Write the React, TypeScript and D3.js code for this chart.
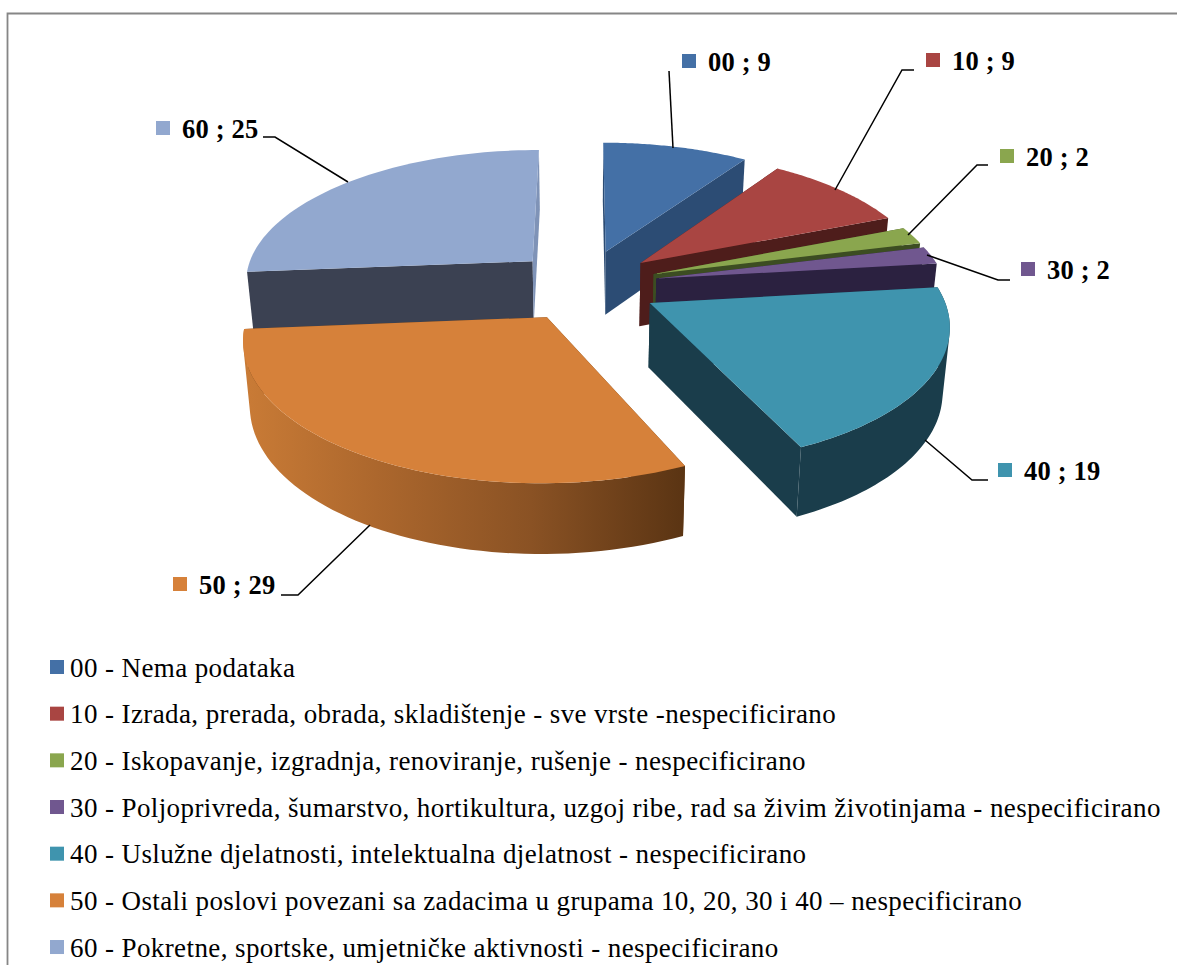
import React from "react";
import * as d3 from "d3";

const codes = ["00", "10", "20", "30", "40", "50", "60"];
const values = [9, 9, 2, 2, 19, 29, 25];
const legendTexts = [
  "00 - Nema podataka",
  "10 - Izrada, prerada, obrada, skladištenje - sve vrste -nespecificirano",
  "20 - Iskopavanje, izgradnja, renoviranje, rušenje - nespecificirano",
  "30 - Poljoprivreda, šumarstvo, hortikultura, uzgoj ribe, rad sa živim životinjama - nespecificirano",
  "40 - Uslužne djelatnosti, intelektualna djelatnost - nespecificirano",
  "50 - Ostali poslovi povezani sa zadacima u grupama 10, 20, 30 i 40 – nespecificirano",
  "60 - Pokretne, sportske, umjetničke aktivnosti - nespecificirano",
];
const topColors = ["#4470a6", "#a94542", "#8aa64e", "#70578f", "#3f94ae", "#d6813a", "#92a8cf"];
const sideColors = ["#2c4c74", "#4e1d1b", "#3c4d22", "#2b2140", "#1a3d4b", "#6b3f18", "#3b4152"];
const labelPos = [
  { mx: 682, my: 54, line: [[669, 71], [673, 148]] },
  { mx: 926, my: 53, line: [[914, 70], [902, 70], [835, 190]] },
  { mx: 1000, my: 149, line: [[988, 165], [977, 165], [908, 235]] },
  { mx: 1021, my: 262, line: [[1010, 280], [998, 280], [927, 255]] },
  { mx: 998, my: 463, line: [[988, 480], [972, 480], [925, 440]] },
  { mx: 173, my: 577, line: [[281, 595], [298, 595], [370, 525]] },
  { mx: 156, my: 121, line: [[263, 137], [275, 137], [348, 182]] },
];

const CX = 585, CY = 285, RX = 290, RY = 133, K = 0.14, DEPTH = 64, EXX = 73, EXY = 36, CONVERGE = 0.02;
const project = (x: number, y: number, z: number) => {
  // x, y on the pie plane (unit radius; y points away from the viewer), z = downward extrusion
  const w = 1 / (1 + K * y);
  return [CX + RX * x * w * (1 - z * CONVERGE), CY - RY * y * w + z * DEPTH * (1 + (w - 1) * 0.5)];
};

export default function App() {
  const arcs = d3.pie<number>().sort(null).startAngle(0).endAngle(2 * Math.PI)(values);
  const order = [0, 6, 1, 2, 3, 4, 5];
  const line = d3.line();
  const slices = order.map((i) => {
    const a = arcs[i];
    const mid = (a.startAngle + a.endAngle) / 2;
    const ox = (Math.sin(mid) * EXX) / RX;
    const oy = (Math.cos(mid) * EXY) / RY;
    const angles = d3.range(0, 61).map((t) => a.startAngle + ((a.endAngle - a.startAngle) * t) / 60);
    const pt = (ang: number, z: number) => project(ox + Math.sin(ang), oy + Math.cos(ang), z) as [number, number];
    const apex = (z: number) => project(ox, oy, z) as [number, number];
    const top = line([apex(0), ...angles.map((g) => pt(g, 0))]) + "Z";
    const wall = (ang: number) => line([apex(0), pt(ang, 0), pt(ang, 1), apex(1)]) + "Z";
    const hasOuter = a.startAngle >= (80 * Math.PI) / 180 && a.endAngle <= (275 * Math.PI) / 180;
    const outer = hasOuter
      ? angles
          .slice(1)
          .map((g, t) => {
            // every quad wound the same way, so that the one path fills as a seamless union
            const quad = [pt(angles[t], 0), pt(g, 0), pt(g, 1), pt(angles[t], 1)] as [number, number][];
            if (d3.polygonArea(quad) < 0) quad.reverse();
            return line(quad) + "Z";
          })
          .join("")
      : null;
    return { i, top, w1: wall(a.startAngle), w2: wall(a.endAngle), outer };
  });

  return (
    <svg width={1177} height={965} style={{ position: "absolute", left: 0, top: 0, background: "#fff" }}>
      <defs>
        <linearGradient id="g50" gradientUnits="userSpaceOnUse" x1={245} x2={685} y1={0} y2={0}>
          <stop offset="0" stopColor="#c97b36" />
          <stop offset="0.3" stopColor="#ac672d" />
          <stop offset="0.65" stopColor="#8a5224" />
          <stop offset="1" stopColor="#5a3413" />
        </linearGradient>
      </defs>
      <path d="M7.5,965V13.5H1177" fill="none" stroke="#868686" strokeWidth={1.8} />
      {slices.map((s) => (
        <g key={s.i}>
          <path d={s.w1} fill={sideColors[s.i]} />
          <path d={s.w2} fill={s.i === 6 ? "#7f93b7" : sideColors[s.i]} />
          {s.outer && <path d={s.outer} fill={s.i === 5 ? "url(#g50)" : sideColors[s.i]} />}
          <path d={s.top} fill={topColors[s.i]} />
        </g>
      ))}
      {labelPos.map((l, i) => (
        <g key={i}>
          <polyline points={l.line.join(" ")} fill="none" stroke="#000" strokeWidth={1.5} />
          <rect x={l.mx} y={l.my} width={14} height={14} fill={topColors[i]} />
          <text x={l.mx + 26} y={l.my + 16.5} fontFamily="'Liberation Serif'" fontWeight="bold" fontSize={26.5} letterSpacing={0.2}>
            {`${codes[i]} ; ${values[i]}`}
          </text>
        </g>
      ))}
      {legendTexts.map((t, i) => (
        <g key={t}>
          <rect x={50} y={660 + i * 46.67} width={14} height={14} fill={topColors[i]} />
          <text x={70} y={676.5 + i * 46.67} fontFamily="'Liberation Serif'" fontSize={27} letterSpacing={0.4}>
            {t}
          </text>
        </g>
      ))}
    </svg>
  );
}
